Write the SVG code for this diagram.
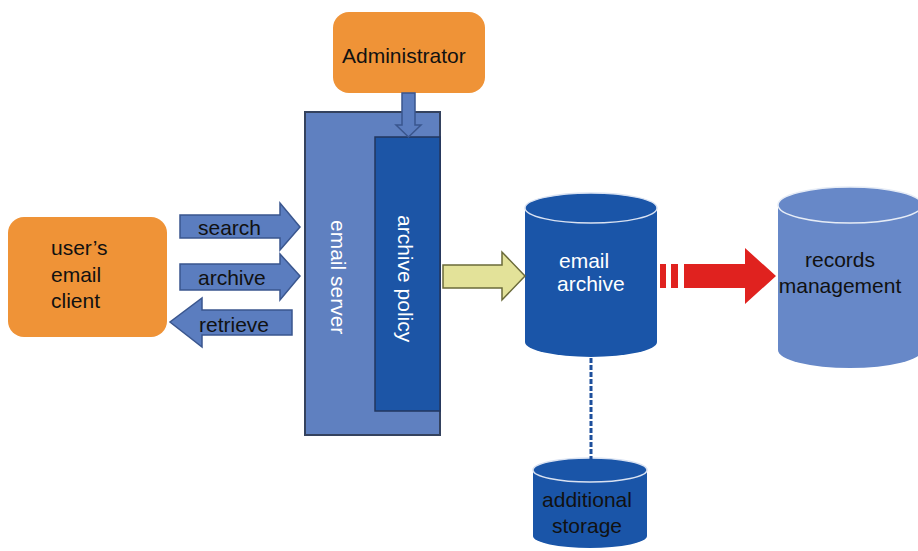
<svg xmlns="http://www.w3.org/2000/svg" width="918" height="551" viewBox="0 0 918 551">
<style>
.t{font-family:"Liberation Sans",Arial,sans-serif;font-size:21px}
.k{fill:#111}
.w{fill:#fff}
.orange{fill:#EF9337}
.blarrow{fill:#5B7DBF;stroke:#3A568E;stroke-width:1.5}
</style>
<rect width="918" height="551" fill="#fff"/>
<g id="administrator">
  <rect class="orange" x="333" y="12" width="152" height="81" rx="16"/>
  <text class="t k" x="342" y="63">Administrator</text>
</g>
<g id="email-server">
  <rect x="305" y="112" width="135" height="323" fill="#5F80C0" stroke="#34425E" stroke-width="2"/>
  <text class="t w" transform="translate(331,220) rotate(90)">email server</text>
</g>
<g id="archive-policy">
  <rect x="375" y="137" width="65" height="274" fill="#1C55A6" stroke="#22365E" stroke-width="1.5"/>
  <text class="t w" transform="translate(398,215) rotate(90)">archive policy</text>
</g>
<g id="users-email-client">
  <rect class="orange" x="8" y="217" width="159" height="120" rx="16"/>
  <text class="t k" x="51" y="255">user’s</text>
  <text class="t k" x="51" y="282">email</text>
  <text class="t k" x="51" y="308">client</text>
</g>
<g id="email-archive">
  <path d="M525,208 L525,342 A66,15 0 0 0 657,342 L657,208 Z" fill="#1A55A8"/>
  <ellipse cx="591" cy="208" rx="66" ry="15" fill="#1A55A8" stroke="#D9E2F2" stroke-width="1.5"/>
  <text class="t w" x="559" y="268">email</text>
  <text class="t w" x="557" y="291">archive</text>
</g>
<g id="records-management">
  <path d="M778,205 L778,350 A72,18 0 0 0 922,350 L922,205 Z" fill="#6788C8"/>
  <ellipse cx="850" cy="205" rx="72" ry="18" fill="#6788C8" stroke="#E6ECF6" stroke-width="1.5"/>
  <text class="t k" x="840" y="267" text-anchor="middle">records</text>
  <text class="t k" x="840" y="293" text-anchor="middle">management</text>
</g>
<g id="additional-storage">
  <path d="M533,470 L533,536 A57,12 0 0 0 647,536 L647,470 Z" fill="#1A55A8"/>
  <ellipse cx="590" cy="470" rx="57" ry="12" fill="#1A55A8" stroke="#D9E2F2" stroke-width="1.5"/>
  <text class="t k" x="587" y="507" text-anchor="middle">additional</text>
  <text class="t k" x="587" y="533" text-anchor="middle">storage</text>
</g>
<g id="connectors">
  <path class="blarrow" d="M402,93 L415,93 L415,125 L421,125 L408.5,137 L396,125 L402,125 Z"/>
  <path class="blarrow" d="M180,215 L280,215 L280,203 L300,227 L280,250 L280,238 L180,238 Z"/>
  <path class="blarrow" d="M180,264 L280,264 L280,254 L300,276 L280,300 L280,290 L180,290 Z"/>
  <path class="blarrow" d="M292,310 L202,310 L202,298 L170,322 L202,347 L202,335 L292,335 Z"/>
  <path d="M443,265 L502,265 L502,252 L525,276 L502,300 L502,288 L443,288 Z" fill="#E3E299" stroke="#6B6B3A" stroke-width="1.5"/>
  <g fill="#E0221F">
    <rect x="660" y="264" width="6" height="24"/>
    <rect x="671" y="264" width="7" height="24"/>
    <path d="M684,264 L745,264 L745,248 L776,276 L745,304 L745,288 L684,288 Z"/>
  </g>
  <line x1="591" y1="358" x2="591" y2="460" stroke="#1D4F9C" stroke-width="3" stroke-dasharray="5,2"/>
</g>
<g id="search-label"><text class="t k" x="198" y="235">search</text></g>
<g id="archive-label"><text class="t k" x="198" y="285">archive</text></g>
<g id="retrieve-label"><text class="t k" x="199" y="332">retrieve</text></g>
</svg>
